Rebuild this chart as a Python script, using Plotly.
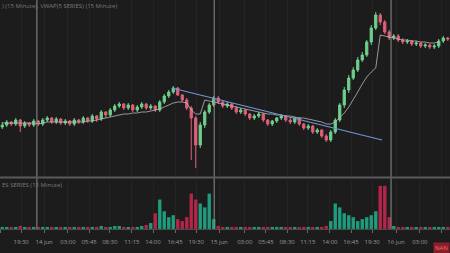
import plotly.graph_objects as go

# ---------------- data ----------------
bars = list(range(100))
opens = [53,55,58,56,60,54,57,55,59,56,
         60,62,58,61,57,59,56,60,58,62,
         59,64,61,68,65,70,74,76,72,75,
         70,73,76,72,74,70,78,84,88,92,
         85,80,72,62,35,55,68,75,82,78,
         74,76,72,68,70,66,62,64,66,60,
         56,59,62,64,60,58,62,56,52,54,
         48,50,44,40,48,60,75,90,102,110,
         120,125,138,152,165,158,148,142,144,140,
         138,139,136,137,134,135,133,134,139,142]
highs = [58,60,59,62,61,59,58,61,60,62,
         64,63,63,62,61,60,62,61,64,63,
         66,65,70,69,72,76,78,77,77,76,
         75,78,77,76,75,80,86,90,94,93,
         86,82,74,64,58,70,77,84,84,80,
         78,77,74,72,71,67,66,68,67,61,
         60,63,66,65,62,63,63,57,56,55,
         52,51,46,50,62,77,93,105,113,123,
         128,140,155,168,167,160,150,146,146,142,
         141,140,139,138,137,136,136,141,144,143]
lows = [51,53,54,54,48,52,53,53,54,54,
        58,56,56,55,55,54,54,56,56,57,
        57,58,59,62,63,68,72,70,70,68,
        68,71,70,70,68,68,76,82,86,84,
        78,70,20,12,32,52,66,73,76,72,
        72,70,66,66,64,60,60,62,58,54,
        54,57,60,58,56,56,54,50,50,46,
        46,42,38,38,46,58,72,87,100,108,
        118,123,135,150,155,146,140,140,138,136,
        136,134,134,132,132,131,131,132,137,139]
closes = [55,58,56,60,54,57,55,59,56,60,
          62,58,61,57,59,56,60,58,62,59,
          64,61,68,65,70,74,76,72,75,70,
          73,76,72,74,70,78,84,88,92,85,
          80,72,62,35,55,68,75,82,78,74,
          76,72,68,70,66,62,64,66,60,56,
          59,62,64,60,58,62,56,52,54,48,
          50,44,40,48,60,75,90,102,110,120,
          125,138,152,165,158,148,142,144,140,138,
          139,136,137,134,135,133,134,139,142,141]
vwap = [57,57,57,57,57,57,57,57,
        56,57,58,58,58,58,58,58,58,58,
        58,59,59,60,61,62,63,64,65,66,
        66,67,67,68,68,69,70,71,73,75,
        77,78,78,77,70,66,66,
        80,79,78,77,76,75,74,73,72,71,
        70,69,68,67,66,66,65,65,64,64,
        63,62,62,61,60,59,58,56,56,58,
        62,67,73,80,88,96,103,108,112,
        145,144,143,142,141,140,140,139,139,138,138,137,137,138]
volume = [2,1,2,1,3,2,1,2,1,2,
          1,2,2,1,2,1,2,1,1,2,
          2,1,3,2,2,3,3,2,2,1,
          2,3,4,6,16,30,18,12,14,10,
          8,12,36,30,26,22,36,10,3,2,
          1,2,1,2,2,1,2,2,1,1,
          2,1,1,2,2,1,1,2,2,1,
          2,2,3,8,26,22,16,14,12,8,
          10,12,14,18,44,44,12,3,2,1,
          1,2,1,2,1,1,2,2,1,1]
tick_idx = [-0.5, 4.2, 9.3, 14.6, 19.3, 23.9, 28.8, 33.5, 38.4, 43.1, 48.2,
            53.9, 58.6, 63.3, 67.9, 72.8, 77.5, 82.2, 87.5, 92.8, 97.7]
tick_text = ["16:45", "19:30", "14 jun", "03:00", "05:45", "08:30", "11:15", "14:00",
             "16:45", "19:30", "15 jun", "03:00", "05:45", "08:30", "11:15", "14:00",
             "16:45", "19:30", "16 jun", "03:00", "05:45"]
day_idx = [7.7, 47.1, 86.4]
trend_x = [37.7, 84.4]
trend_y = [92, 40]

# ---------------- styling ----------------
BG = "#1c1c1c"
UP = "#6fd08c"
DN = "#e0607a"
VUP = "#1f9b7e"
VDN = "#b3264a"
FONT = "Open Sans"

vol_colors = [VUP if c >= o else VDN for o, c in zip(opens, closes)]

fig = go.Figure()
fig.add_trace(go.Scatter(x=bars, y=vwap, mode="lines",
                         line=dict(color="#b8b8b8", width=0.8),
                         xaxis="x", yaxis="y", hoverinfo="skip"))
fig.add_trace(go.Candlestick(x=bars, open=opens, high=highs, low=lows, close=closes,
                             increasing=dict(line=dict(color=UP, width=1), fillcolor=UP),
                             decreasing=dict(line=dict(color=DN, width=1), fillcolor=DN),
                             whiskerwidth=0, xaxis="x", yaxis="y"))
fig.add_trace(go.Scatter(x=trend_x, y=trend_y, mode="lines",
                         line=dict(color="#6f95d8", width=1.2),
                         xaxis="x", yaxis="y", hoverinfo="skip"))
fig.add_trace(go.Bar(x=bars, y=volume, marker=dict(color=vol_colors, line=dict(width=0)),
                     xaxis="x2", yaxis="y2", width=0.75))

shapes = []
for d in day_idx:
    shapes.append(dict(type="line", xref="x", yref="paper", x0=d, x1=d, y0=0.009, y1=1,
                       line=dict(color="#8c8c8c", width=1), layer="above"))
shapes.append(dict(type="line", xref="paper", yref="paper", x0=0, x1=1, y0=0.232, y1=0.232,
                   line=dict(color="#5a5a5a", width=2)))

fig.update_layout(
    width=450, height=253,
    margin=dict(l=0, r=0, t=0, b=22),
    paper_bgcolor=BG, plot_bgcolor=BG,
    showlegend=False,
    bargap=0.2,
    font=dict(family=FONT, size=6, color="#9a9a9a"),
    xaxis=dict(domain=[0, 1], anchor="y", range=[-0.5, 99.5], rangeslider=dict(visible=False),
               showticklabels=False, tickvals=tick_idx, showgrid=True, gridcolor="#232323",
               gridwidth=1, zeroline=False, showline=False),
    yaxis=dict(domain=[0.238, 1], range=[4, 180], showticklabels=False, showgrid=False,
               zeroline=False),
    xaxis2=dict(domain=[0, 1], anchor="y2", matches="x", range=[-0.5, 99.5],
                tickvals=tick_idx, ticktext=tick_text, tickfont=dict(size=6, color="#9a9a9a"),
                ticks="outside", ticklen=3, tickcolor="#666666", showgrid=True,
                gridcolor="#232323", showline=True, linecolor="#4a4a4a", linewidth=1,
                zeroline=False, ticklabelstandoff=4),
    yaxis2=dict(domain=[0.009, 0.221], range=[0, 50], showticklabels=False, showgrid=False,
                zeroline=False),
    shapes=shapes,
    annotations=[
        dict(xref="paper", yref="paper", x=0, y=1, xanchor="left", yanchor="top",
             text=") (15 Minute), VWAP(5 SERIES) (15 Minute)", showarrow=False,
             font=dict(size=6, color="#7a7a7a")),
        dict(xref="paper", yref="paper", x=0, y=0.226, xanchor="left", yanchor="top",
             text="ES SERIES (15 Minute)", showarrow=False,
             font=dict(size=6, color="#7a7a7a")),
        dict(xref="paper", yref="paper", x=1, y=-0.075, xanchor="right", yanchor="middle",
             text="NAN", showarrow=False, bgcolor="#8b1e2b", borderpad=1,
             font=dict(size=6, color="#ff6b6b")),
    ],
)

fig.write_html("out.html")
